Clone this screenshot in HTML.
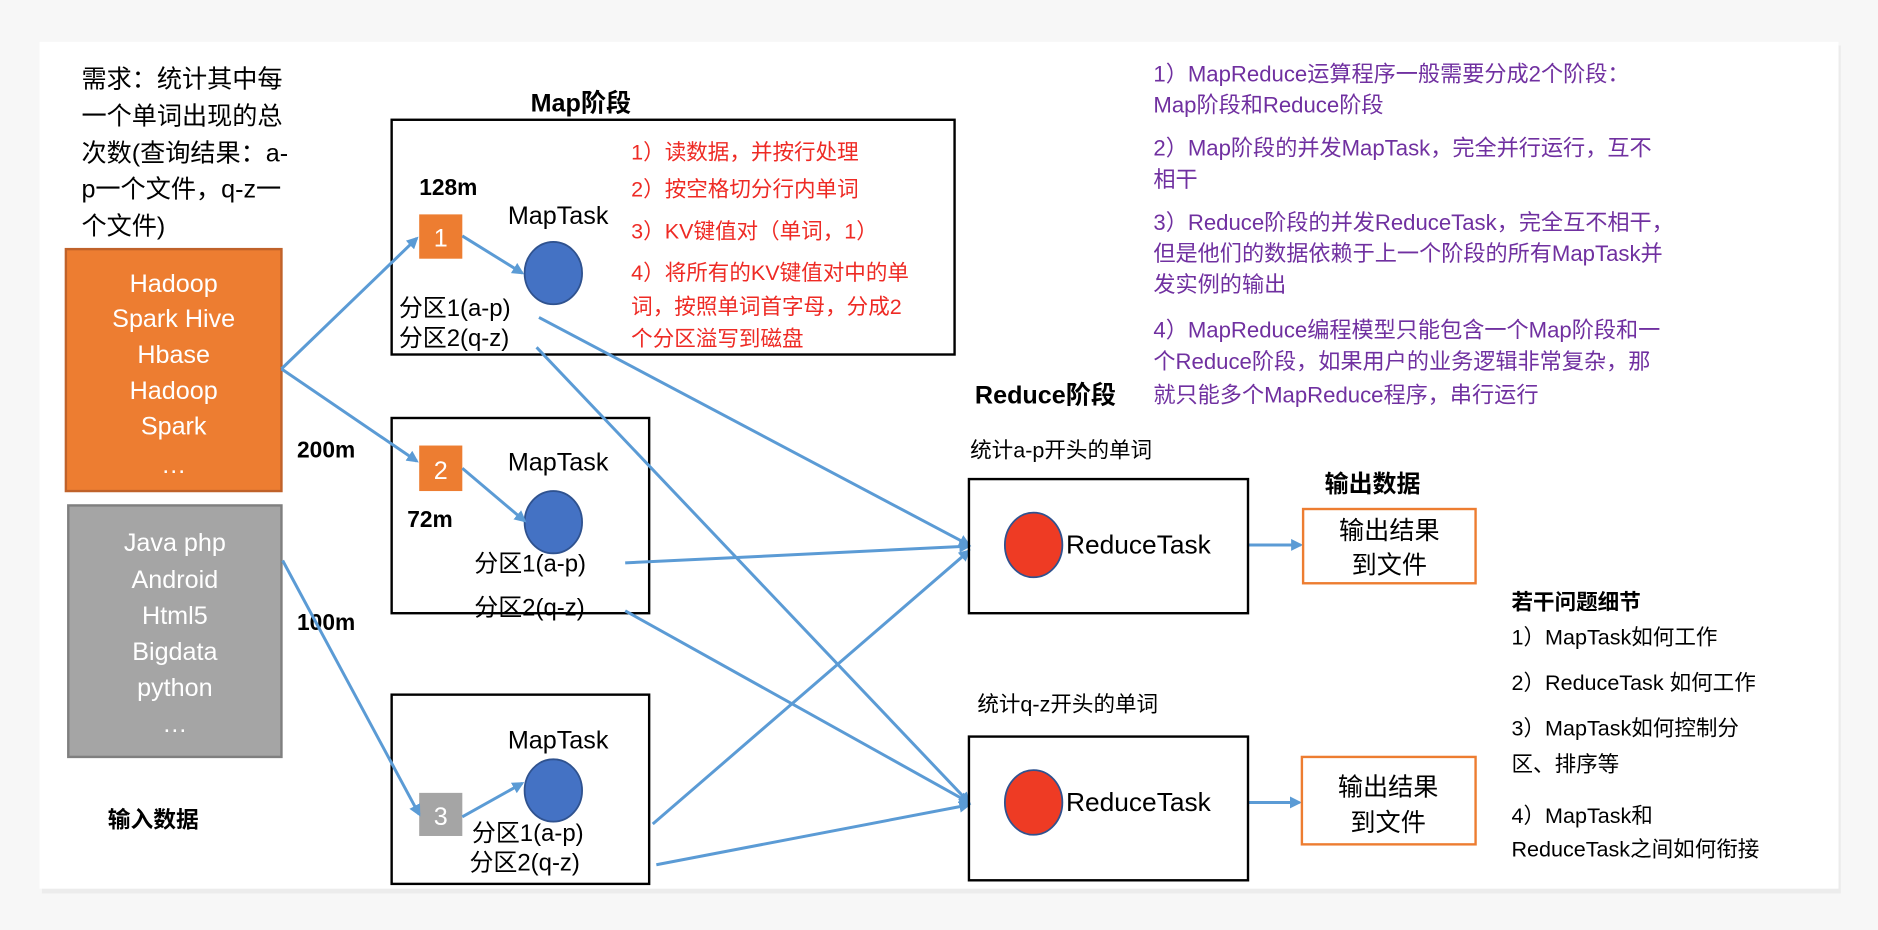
<!DOCTYPE html>
<html><head><meta charset="utf-8"><style>
html,body{margin:0;padding:0;background:#f6f6f6;}
svg{display:block;}
text{font-family:"Liberation Sans","Noto Sans CJK SC",sans-serif;}
</style></head><body>
<svg width="1878" height="930" viewBox="0 0 1568 776.5" preserveAspectRatio="none" xmlns="http://www.w3.org/2000/svg">
<defs>
<marker id="ah" markerWidth="10" markerHeight="10" refX="8" refY="5" orient="auto" markerUnits="userSpaceOnUse">
<path d="M0,0 L10,5 L0,10 z" fill="#5b9bd5"/></marker>
</defs>
<rect x="0" y="0" width="1568" height="776.5" fill="#f7f7f7"/>
<rect x="35" y="38" width="1502" height="708" fill="#ececec"/>
<rect x="33" y="35" width="1502" height="707" fill="#fff"/>

<g font-size="21" fill="#000">
<text x="68" y="73">需求：统计其中每</text>
<text x="68" y="104">一个单词出现的总</text>
<text x="68" y="135">次数(查询结果：a-</text>
<text x="68" y="165">p一个文件，q-z一</text>
<text x="68" y="196">个文件)</text>
</g>

<rect x="55" y="208" width="180" height="202" fill="#ed7d31" stroke="#c0622a" stroke-width="2"/>
<g font-size="21" fill="#fff" text-anchor="middle">
<text x="145" y="244">Hadoop</text><text x="145" y="273">Spark Hive</text><text x="145" y="303">Hbase</text>
<text x="145" y="333">Hadoop</text><text x="145" y="363">Spark</text><text x="145" y="395">…</text>
</g>
<rect x="57" y="422" width="178" height="210" fill="#a5a5a5" stroke="#7f7f7f" stroke-width="2"/>
<g font-size="21" fill="#fff" text-anchor="middle">
<text x="146" y="460">Java php</text><text x="146" y="491">Android</text><text x="146" y="521">Html5</text>
<text x="146" y="551">Bigdata</text><text x="146" y="581">python</text><text x="146" y="611">…</text>
</g>
<text x="90" y="691" font-size="19" font-weight="bold">输入数据</text>

<text x="443" y="93" font-size="21" font-weight="bold">Map阶段</text>
<rect x="327" y="100" width="470" height="196" fill="none" stroke="#000" stroke-width="2"/>
<rect x="327" y="349" width="215" height="163" fill="none" stroke="#000" stroke-width="2"/>
<rect x="327" y="580" width="215" height="158" fill="none" stroke="#000" stroke-width="2"/>

<g font-size="19" font-weight="bold">
<text x="350" y="163">128m</text><text x="248" y="382">200m</text><text x="340" y="440">72m</text><text x="248" y="526">100m</text>
</g>
<rect x="350" y="179" width="36" height="37" fill="#ed7d31"/>
<text x="368" y="206" font-size="21" fill="#fff" text-anchor="middle">1</text>
<rect x="350" y="372" width="36" height="38" fill="#ed7d31"/>
<text x="368" y="400" font-size="21" fill="#fff" text-anchor="middle">2</text>
<rect x="350" y="662" width="36" height="36" fill="#a5a5a5"/>
<text x="368" y="689" font-size="21" fill="#fff" text-anchor="middle">3</text>

<g font-size="21">
<text x="424" y="187">MapTask</text><text x="424" y="393">MapTask</text><text x="424" y="625">MapTask</text>
</g>
<g fill="#4472c4" stroke="#2f528f" stroke-width="1.5">
<ellipse cx="462" cy="228" rx="24" ry="26"/><ellipse cx="462" cy="436" rx="24" ry="26"/><ellipse cx="462" cy="660" rx="24" ry="26"/>
</g>
<g font-size="20">
<text x="333" y="264">分区1(a-p)</text><text x="333" y="289">分区2(q-z)</text>
<text x="396" y="477">分区1(a-p)</text><text x="396" y="514">分区2(q-z)</text>
<text x="394" y="702">分区1(a-p)</text><text x="392" y="727">分区2(q-z)</text>
</g>
<g font-size="18" fill="#ee2a24">
<text x="527" y="133">1）读数据，并按行处理</text>
<text x="527" y="164">2）按空格切分行内单词</text>
<text x="527" y="199">3）KV键值对（单词，1）</text>
<text x="527" y="234">4）将所有的KV键值对中的单</text>
<text x="527" y="262">词，按照单词首字母，分成2</text>
<text x="527" y="289">个分区溢写到磁盘</text>
</g>

<g stroke="#5b9bd5" stroke-width="2.5" fill="none" marker-end="url(#ah)">
<line x1="235" y1="308" x2="348" y2="199"/>
<line x1="235" y1="308" x2="348" y2="385"/>
<line x1="236" y1="468" x2="350" y2="680"/>
<line x1="386" y1="197" x2="436" y2="228"/>
<line x1="386" y1="391" x2="438" y2="435"/>
<line x1="386" y1="682" x2="436" y2="654"/>
<line x1="450" y1="265" x2="809" y2="455"/>
<line x1="448" y1="290" x2="809" y2="670"/>
<line x1="522" y1="470" x2="809" y2="456"/>
<line x1="522" y1="510" x2="809" y2="670"/>
<line x1="545" y1="688" x2="809" y2="460"/>
<line x1="548" y1="722" x2="809" y2="672"/>
<line x1="1042" y1="455" x2="1086" y2="455"/>
<line x1="1042" y1="670" x2="1085" y2="670"/>
</g>

<text x="814" y="337" font-size="21" font-weight="bold">Reduce阶段</text>
<text x="810" y="382" font-size="18">统计a-p开头的单词</text>
<text x="816" y="594" font-size="18">统计q-z开头的单词</text>
<rect x="809" y="400" width="233" height="112" fill="none" stroke="#000" stroke-width="2"/>
<rect x="809" y="615" width="233" height="120" fill="none" stroke="#000" stroke-width="2"/>
<g fill="#ee3b24" stroke="#2f528f" stroke-width="1.5">
<ellipse cx="863" cy="455" rx="24" ry="27"/><ellipse cx="863" cy="670" rx="24" ry="27"/>
</g>
<g font-size="22"><text x="890" y="462">ReduceTask</text><text x="890" y="677">ReduceTask</text></g>
<text x="1106" y="411" font-size="20" font-weight="bold">输出数据</text>
<rect x="1088" y="425" width="144" height="62" fill="none" stroke="#ed7d31" stroke-width="2"/>
<rect x="1087" y="632" width="145" height="73" fill="none" stroke="#ed7d31" stroke-width="2"/>
<g font-size="21" text-anchor="middle">
<text x="1160" y="450">输出结果</text><text x="1160" y="479">到文件</text>
<text x="1159" y="664">输出结果</text><text x="1159" y="694">到文件</text>
</g>

<g font-size="18.5" fill="#7030a0">
<text x="963" y="68">1）MapReduce运算程序一般需要分成2个阶段：</text>
<text x="963" y="94">Map阶段和Reduce阶段</text>
<text x="963" y="130">2）Map阶段的并发MapTask，完全并行运行，互不</text>
<text x="963" y="156">相干</text>
<text x="963" y="192">3）Reduce阶段的并发ReduceTask，完全互不相干，</text>
<text x="963" y="218">但是他们的数据依赖于上一个阶段的所有MapTask并</text>
<text x="963" y="244">发实例的输出</text>
<text x="963" y="282">4）MapReduce编程模型只能包含一个Map阶段和一</text>
<text x="963" y="308">个Reduce阶段，如果用户的业务逻辑非常复杂，那</text>
<text x="963" y="336">就只能多个MapReduce程序，串行运行</text>
</g>

<text x="1262" y="509" font-size="18" font-weight="bold">若干问题细节</text>
<g font-size="18">
<text x="1262" y="538">1）MapTask如何工作</text>
<text x="1262" y="576">2）ReduceTask 如何工作</text>
<text x="1262" y="614">3）MapTask如何控制分</text>
<text x="1262" y="644">区、排序等</text>
<text x="1262" y="687">4）MapTask和</text>
<text x="1262" y="715">ReduceTask之间如何衔接</text>
</g>
</svg>
</body></html>
